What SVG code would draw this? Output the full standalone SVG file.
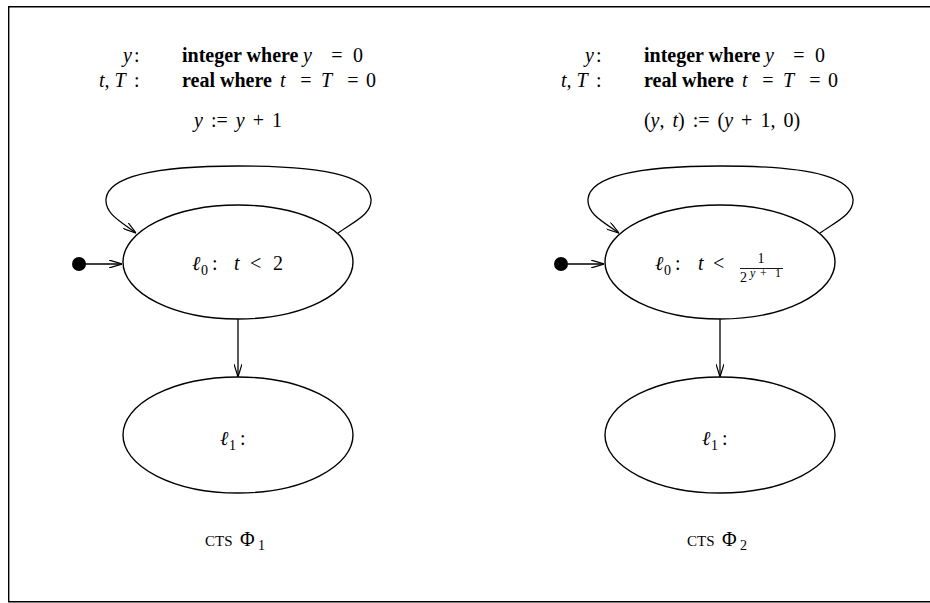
<svg xmlns="http://www.w3.org/2000/svg" width="930" height="603" viewBox="0 0 930 603">
<style>
  .s{font-family:"Liberation Serif","Times New Roman",serif;font-size:20px;fill:#000}
  .i{font-style:italic}
  .b{font-weight:bold}
  .sub{font-family:"Liberation Serif","Times New Roman",serif;font-size:14px;fill:#000}
  .sup{font-family:"Liberation Serif","Times New Roman",serif;font-size:12px;fill:#000}
  .sc{font-family:"Liberation Serif","Times New Roman",serif;font-size:15px;fill:#000}
  .node{fill:#fff;stroke:#000;stroke-width:1.4}
  .edge{fill:none;stroke:#000;stroke-width:1.3}
</style>
<defs>
  <marker id="arr" viewBox="0 0 13 8" refX="13" refY="4" markerWidth="13" markerHeight="8" orient="auto" markerUnits="userSpaceOnUse">
    <path d="M0,0 L13,4 L0,8" fill="none" stroke="#000" stroke-width="1.2"/>
  </marker>
</defs>
<path d="M935,6.7 H8.7 V601.8 H935" fill="none" stroke="#000" stroke-width="1.4"/>

<!-- Left system declarations -->
<g id="decl1">
  <text class="s i" x="123" y="62">y</text><text class="s" x="134" y="62">:</text>
  <text class="s i" x="99" y="87">t, T</text><text class="s" x="134" y="87">:</text>
  <text class="s b" x="182" y="62">integer where</text>
  <text class="s i" x="303" y="62">y</text><text class="s" x="337" y="62" text-anchor="middle">=</text><text class="s" x="353" y="62">0</text>
  <text class="s b" x="182" y="87">real where</text>
  <text class="s i" x="280" y="87">t</text><text class="s" x="306" y="87" text-anchor="middle">=</text>
  <text class="s i" x="321" y="87">T</text><text class="s" x="353" y="87" text-anchor="middle">=</text><text class="s" x="366" y="87">0</text>
  <text class="s" x="238" y="127" text-anchor="middle" word-spacing="3"><tspan class="i">y</tspan> := <tspan class="i">y</tspan> + 1</text>
</g>

<!-- Right system declarations -->
<g id="decl2">
  <text class="s i" x="585" y="62">y</text><text class="s" x="596" y="62">:</text>
  <text class="s i" x="561" y="87">t, T</text><text class="s" x="596" y="87">:</text>
  <text class="s b" x="644" y="62">integer where</text>
  <text class="s i" x="765" y="62">y</text><text class="s" x="799" y="62" text-anchor="middle">=</text><text class="s" x="815" y="62">0</text>
  <text class="s b" x="644" y="87">real where</text>
  <text class="s i" x="742" y="87">t</text><text class="s" x="768" y="87" text-anchor="middle">=</text>
  <text class="s i" x="783" y="87">T</text><text class="s" x="815" y="87" text-anchor="middle">=</text><text class="s" x="828" y="87">0</text>
  <text class="s" x="722" y="127" text-anchor="middle" word-spacing="3">(<tspan class="i">y</tspan>, <tspan class="i">t</tspan>) := (<tspan class="i">y</tspan> + 1, 0)</text>
</g>

<!-- Connectors -->
<g id="connectors">
  <circle cx="79" cy="264" r="7" fill="#000"/>
  <line class="edge" x1="79" y1="264" x2="122" y2="264" marker-end="url(#arr)"/>
  <path class="edge" d="M338,233 C355,221 372,214 371,199 C369,180 340,166 238,166 C140,166 108,180 106,199 C105,213 118,220 136,233" marker-end="url(#arr)"/>
  <line class="edge" x1="238" y1="319" x2="238" y2="377" marker-end="url(#arr)"/>

  <circle cx="561" cy="264" r="7" fill="#000"/>
  <line class="edge" x1="561" y1="264" x2="604" y2="264" marker-end="url(#arr)"/>
  <path class="edge" d="M820,233 C837,221 854,214 853,199 C851,180 822,166 720,166 C622,166 590,180 588,199 C587,213 600,220 619,233" marker-end="url(#arr)"/>
  <line class="edge" x1="720" y1="319" x2="720" y2="377" marker-end="url(#arr)"/>
</g>

<!-- Left nodes -->
<g id="l0_left">
  <ellipse class="node" cx="238" cy="262" rx="115" ry="57"/>
  <text class="s i" x="192" y="270">ℓ</text><text class="sub" x="201" y="275">0</text><text class="s" x="212" y="270">:</text>
  <text class="s i" x="234" y="270">t</text><text class="s" x="250" y="270">&lt;</text><text class="s" x="273" y="270">2</text>
</g>
<g id="l1_left">
  <ellipse class="node" cx="238" cy="435" rx="115" ry="58"/>
  <text class="s i" x="220" y="445">ℓ</text><text class="sub" x="229" y="450">1</text><text class="s" x="240" y="445">:</text>
</g>
<g id="label1">
  <text class="sc" x="205" y="546">CTS</text><text class="s" x="240" y="546">Φ</text><text class="sub" x="258" y="550">1</text>
</g>

<!-- Right nodes -->
<g id="l0_right">
  <ellipse class="node" cx="720" cy="262" rx="115" ry="57"/>
  <text class="s i" x="655" y="270">ℓ</text><text class="sub" x="664" y="275">0</text><text class="s" x="675" y="270">:</text>
  <text class="s i" x="698" y="270">t</text><text class="s" x="713" y="270">&lt;</text>
  <text class="sub" x="761" y="263" text-anchor="middle" font-size="15">1</text>
  <line x1="740" y1="268.5" x2="783" y2="268.5" stroke="#000" stroke-width="0.9"/>
  <text class="sub" x="740" y="282" font-size="15">2</text>
  <text class="sup i" x="750" y="277">y</text>
  <text class="sup" x="760" y="277" font-size="14">+</text>
  <text class="sup" x="775" y="277">1</text>
</g>
<g id="l1_right">
  <ellipse class="node" cx="720" cy="435" rx="115" ry="58"/>
  <text class="s i" x="702" y="445">ℓ</text><text class="sub" x="711" y="450">1</text><text class="s" x="722" y="445">:</text>
</g>
<g id="label2">
  <text class="sc" x="687" y="546">CTS</text><text class="s" x="722" y="546">Φ</text><text class="sub" x="740" y="550">2</text>
</g>
</svg>
